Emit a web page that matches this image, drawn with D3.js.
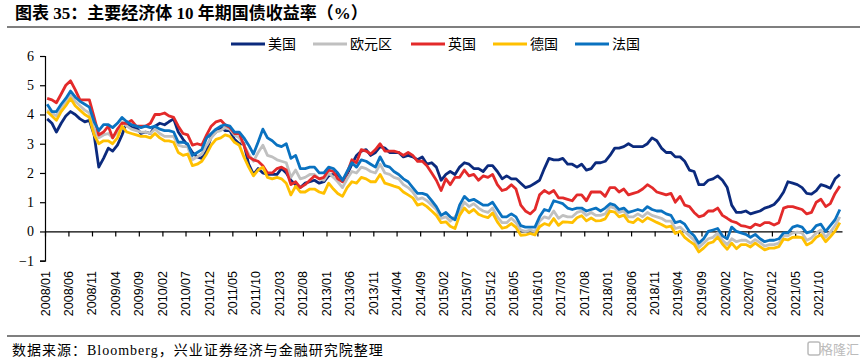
<!DOCTYPE html>
<html>
<head>
<meta charset="utf-8">
<script src="https://cdn.jsdelivr.net/npm/d3@7"></script>
<style>
  body { margin: 0; background: #fff; }
  svg { display: block; }
</style>
</head>
<body>
<div id="chart"></div>
<script>
// monthly readings, 2008/01 .. 2022/02
var us = [
  3.85, 3.7, 3.4, 3.7, 3.95, 4.1, 4.0, 3.85, 3.75, 3.8, 3.3, 2.2,
  2.5, 2.85, 2.75, 2.95, 3.3, 3.75, 3.55, 3.55, 3.35, 3.4, 3.35, 3.6,
  3.7, 3.65, 3.75, 3.85, 3.4, 3.15, 2.95, 2.7, 2.55, 2.5, 2.75, 3.25,
  3.4, 3.55, 3.45, 3.45, 3.15, 3.0, 3.0, 2.3, 1.95, 2.15, 2.0, 1.95,
  1.95, 1.95, 2.15, 2.0, 1.75, 1.6, 1.5, 1.65, 1.7, 1.75, 1.65, 1.7,
  1.9, 1.95, 1.95, 1.75, 1.95, 2.3, 2.6, 2.75, 2.8, 2.6, 2.7, 2.9,
  2.85, 2.7, 2.7, 2.7, 2.55, 2.6, 2.55, 2.45, 2.55, 2.3, 2.35, 2.2,
  1.75, 1.95, 2.05, 1.95, 2.2, 2.35, 2.3, 2.15, 2.15, 2.05, 2.25, 2.25,
  2.05, 1.8, 1.9, 1.8, 1.8, 1.65, 1.5, 1.55, 1.65, 1.75, 2.15, 2.5,
  2.45, 2.45, 2.5, 2.3, 2.3, 2.2, 2.3, 2.1, 2.15, 2.35, 2.35, 2.4,
  2.6, 2.85, 2.85, 2.9, 3.0, 2.9, 2.9, 2.9, 3.0, 3.2, 3.1, 2.85,
  2.7, 2.7, 2.55, 2.55, 2.4, 2.1, 2.05, 1.6, 1.6, 1.75, 1.8, 1.9,
  1.75, 1.5, 0.9, 0.65, 0.65, 0.7, 0.6, 0.65, 0.7, 0.8, 0.85, 0.92,
  1.1, 1.35, 1.7, 1.65, 1.6, 1.5, 1.3, 1.28, 1.4, 1.6, 1.55, 1.48,
  1.8, 1.95
]
var ez = [
  4.15, 4.05, 3.95, 4.25, 4.45, 4.7, 4.45, 4.3, 4.15, 4.05, 3.5, 3.2,
  3.3, 3.35, 3.2, 3.4, 3.75, 3.6, 3.5, 3.45, 3.4, 3.4, 3.35, 3.5,
  3.35, 3.25, 3.25, 3.25, 2.95, 2.9, 2.9, 2.45, 2.55, 2.65, 2.95, 3.2,
  3.4, 3.45, 3.55, 3.5, 3.3, 3.2, 2.95, 2.65, 2.4, 2.7, 2.95, 2.6,
  2.55, 2.45, 2.4, 2.35, 1.85, 2.1, 1.8, 1.85, 1.95, 1.95, 1.8, 1.75,
  2.0, 1.85, 1.7, 1.5, 1.8, 2.05, 2.0, 2.2, 2.15, 2.05, 2.0, 2.3,
  2.0, 1.95, 1.85, 1.8, 1.6, 1.5, 1.35, 1.1, 1.15, 1.05, 0.9, 0.75,
  0.45, 0.5, 0.35, 0.5, 0.7, 1.0, 0.85, 0.95, 0.8, 0.7, 0.65, 0.8,
  0.5, 0.3, 0.3, 0.45, 0.3, 0.05, 0.0, 0.05, 0.0, 0.35, 0.5, 0.45,
  0.7, 0.45, 0.55, 0.5, 0.5, 0.65, 0.7, 0.55, 0.65, 0.55, 0.55, 0.6,
  0.85, 0.8, 0.65, 0.7, 0.5, 0.5, 0.6, 0.5, 0.65, 0.55, 0.5, 0.45,
  0.35, 0.35, 0.1, 0.15, 0.0, -0.15, -0.3, -0.55, -0.4, -0.25, -0.2, -0.05,
  -0.3, -0.45, -0.25, -0.35, -0.3, -0.3, -0.4, -0.28, -0.38, -0.5, -0.45, -0.45,
  -0.4, -0.15, -0.15, -0.05, -0.02, -0.05, -0.3, -0.22, -0.05, 0.05, -0.2, -0.02,
  0.2, 0.5
]
var uk = [
  4.55, 4.5, 4.4, 4.7, 5.0, 5.15, 4.85, 4.5, 4.5, 4.5, 3.9, 3.3,
  3.4, 3.6, 3.2, 3.5, 3.7, 3.7, 3.8, 3.6, 3.6, 3.6, 3.7, 4.0,
  4.0, 4.05, 3.95, 3.9, 3.6, 3.35, 3.3, 2.95, 3.0, 2.95, 3.3, 3.6,
  3.75, 3.8, 3.65, 3.55, 3.35, 3.35, 2.95, 2.55, 2.45, 2.4, 2.25, 2.0,
  2.0, 2.15, 2.2, 2.1, 1.6, 1.7, 1.5, 1.6, 1.75, 1.9, 1.8, 1.85,
  2.1, 2.05, 1.8, 1.7, 2.0, 2.45, 2.35, 2.8, 2.75, 2.65, 2.8, 3.0,
  2.75, 2.75, 2.75, 2.7, 2.6, 2.7, 2.6, 2.4, 2.4, 2.25, 2.0, 1.75,
  1.4, 1.8, 1.6, 1.85, 1.85, 2.1, 1.9, 1.95, 1.75, 1.9, 1.85, 1.95,
  1.6, 1.4, 1.45, 1.6, 1.45, 0.9, 0.7, 0.6, 0.75, 1.25, 1.4, 1.3,
  1.4, 1.15, 1.15, 1.1, 1.05, 1.25, 1.25, 1.05, 1.35, 1.35, 1.35, 1.2,
  1.5, 1.5, 1.35, 1.45, 1.25, 1.3, 1.35, 1.45, 1.6, 1.5, 1.35, 1.3,
  1.25, 1.3, 1.0, 1.2, 0.9, 0.85, 0.65, 0.5, 0.55, 0.7, 0.7, 0.8,
  0.55, 0.45, 0.35, 0.3, 0.2, 0.17, 0.12, 0.25, 0.2, 0.3, 0.3, 0.22,
  0.3, 0.8, 0.85, 0.85, 0.8, 0.75, 0.6, 0.65, 1.0, 1.1, 0.85, 0.95,
  1.3, 1.55
]
var de = [
  4.1, 3.95, 3.8, 4.1, 4.3, 4.55, 4.3, 4.15, 4.0, 3.9, 3.3, 3.0,
  3.1, 3.1, 3.0, 3.2, 3.6, 3.4, 3.35, 3.3, 3.25, 3.25, 3.2, 3.35,
  3.2, 3.1, 3.1, 3.05, 2.7, 2.6, 2.65, 2.25, 2.3, 2.4, 2.65, 2.95,
  3.15, 3.2, 3.3, 3.25, 3.05, 2.95, 2.55, 2.2, 1.9, 2.1, 2.2, 1.85,
  1.8, 1.85, 1.8, 1.65, 1.25, 1.55, 1.35, 1.35, 1.45, 1.45, 1.35, 1.3,
  1.65, 1.45, 1.3, 1.2, 1.5, 1.7, 1.65, 1.85, 1.8, 1.7, 1.7, 1.95,
  1.65, 1.6, 1.55, 1.5, 1.35, 1.25, 1.15, 0.9, 0.95, 0.85, 0.7, 0.55,
  0.3, 0.33, 0.18, 0.1, 0.55, 0.8, 0.64, 0.75, 0.59, 0.52, 0.47, 0.63,
  0.33, 0.11, 0.15, 0.27, 0.14, -0.13, -0.12, -0.07, -0.12, 0.16, 0.27, 0.21,
  0.44, 0.21, 0.33, 0.32, 0.3, 0.47, 0.54, 0.36, 0.46, 0.36, 0.37, 0.43,
  0.7, 0.66, 0.5, 0.56, 0.34, 0.3, 0.44, 0.33, 0.47, 0.39, 0.31, 0.24,
  0.15, 0.18, -0.07, 0.01, -0.2, -0.33, -0.44, -0.7, -0.57, -0.41, -0.36, -0.19,
  -0.43, -0.61, -0.4, -0.59, -0.45, -0.45, -0.53, -0.4, -0.52, -0.63, -0.57, -0.57,
  -0.52, -0.26, -0.29, -0.2, -0.19, -0.21, -0.46, -0.38, -0.2, -0.11, -0.35, -0.18,
  0.01, 0.3
]
var fr = [
  4.35, 4.1, 4.1, 4.35, 4.55, 4.8, 4.6, 4.45, 4.35, 4.25, 3.75, 3.45,
  3.65, 3.65, 3.55, 3.7, 3.9, 3.75, 3.65, 3.6, 3.55, 3.6, 3.55, 3.6,
  3.5, 3.45, 3.45, 3.4, 3.05, 3.05, 3.0, 2.6, 2.7, 2.8, 3.2, 3.35,
  3.5, 3.6, 3.65, 3.6, 3.4, 3.4, 3.2, 2.95, 2.65, 3.05, 3.5, 3.2,
  3.1, 2.95, 2.9, 3.0, 2.5, 2.6, 2.15, 2.15, 2.2, 2.2, 2.0, 2.0,
  2.2, 2.15, 2.0, 1.75, 2.05, 2.35, 2.2, 2.45, 2.4, 2.3, 2.2, 2.55,
  2.25, 2.2, 2.05, 1.95, 1.8, 1.7, 1.5, 1.3, 1.3, 1.25, 1.05, 0.85,
  0.55, 0.65, 0.5, 0.4, 0.9, 1.2, 1.05, 1.1, 1.0, 0.9, 0.9, 1.0,
  0.75, 0.5, 0.5, 0.6, 0.5, 0.2, 0.15, 0.15, 0.15, 0.5, 0.75, 0.7,
  1.05, 1.0, 0.95, 0.8, 0.75, 0.8, 0.8, 0.7, 0.75, 0.8, 0.7, 0.8,
  0.95, 0.9, 0.75, 0.8, 0.65, 0.7, 0.75, 0.7, 0.85, 0.75, 0.7, 0.7,
  0.6, 0.55, 0.3, 0.35, 0.25, 0.0, -0.15, -0.4, -0.25, 0.0, 0.05, 0.1,
  -0.15, -0.25, 0.15, 0.0, -0.05, -0.1, -0.2, -0.1, -0.25, -0.35, -0.3, -0.3,
  -0.25, -0.05, -0.05, 0.15, 0.2, 0.15, -0.05, 0.0, 0.2, 0.25, 0.0, 0.2,
  0.4, 0.75
]
var seriesNames = ['美国', '欧元区', '英国', '德国', '法国']
var seriesColors = ['#0b2a7d', '#c0c0c0', '#e32a2a', '#ffc000', '#0a72c0']
var yTicks = [-1, 0, 1, 2, 3, 4, 5, 6]
var xTickLabels = [
  '2008/01', '2008/06', '2008/11', '2009/04', '2009/09', '2010/02', '2010/07', '2010/12',
  '2011/05', '2011/10', '2012/03', '2012/08', '2013/01', '2013/06', '2013/11', '2014/04',
  '2014/09', '2015/02', '2015/07', '2015/12', '2016/05', '2016/10', '2017/03', '2017/08',
  '2018/01', '2018/06', '2018/11', '2019/04', '2019/09', '2020/02', '2020/07', '2020/12',
  '2021/05', '2021/10'
]

var W = 866, H = 363
var parse = d3.timeParse('%Y/%m')
var months = d3.timeMonth.range(new Date(2008, 0, 1), new Date(2022, 2, 1))
var allSeries = [us, ez, uk, de, fr]

var svg = d3.select('#chart').append('svg')
    .attr('width', W)
    .attr('height', H)

// title + rules
svg.append('text')
    .attr('x', 15)
    .attr('y', 19)
    .attr('font-family', '"Liberation Serif", "Noto Sans CJK SC", serif')
    .attr('font-weight', 'bold')
    .attr('font-size', '17px')
    .text('图表 35：主要经济体 10 年期国债收益率（%）')
svg.append('line')
    .attr('x1', 7).attr('x2', 860)
    .attr('y1', 27).attr('y2', 27)
    .attr('stroke', '#000').attr('stroke-width', 1.2)
svg.append('line')
    .attr('x1', 7).attr('x2', 860)
    .attr('y1', 336).attr('y2', 336)
    .attr('stroke', '#000').attr('stroke-width', 1.2)
svg.append('text')
    .attr('x', 12)
    .attr('y', 355)
    .attr('font-family', '"Liberation Serif", "Noto Sans CJK SC", serif')
    .attr('font-size', '14px')
    .attr('letter-spacing', '1px')
    .text('数据来源：Bloomberg，兴业证券经济与金融研究院整理')
// watermark
svg.append('rect')
    .attr('x', 808).attr('y', 342).attr('width', 12).attr('height', 13)
    .attr('rx', 2)
    .attr('fill', 'none').attr('stroke', '#bbb').attr('stroke-width', 1.5)
svg.append('text')
    .attr('x', 859)
    .attr('y', 354)
    .attr('text-anchor', 'end')
    .attr('font-family', '"Noto Sans CJK SC", sans-serif')
    .attr('font-size', '13px')
    .attr('fill', '#bbb')
    .text('格隆汇')

// scales
var x = d3.scaleTime()
    .domain([new Date(2008, 0, 1), new Date(2022, 2, 1)])
    .range([45, 842])
var y = d3.scaleLinear()
    .domain([-1, 6])
    .range([260.7, 56])

// y axis
var yAxis = svg.append('g')
    .attr('transform', 'translate(45,0)')
    .call(d3.axisLeft(y).tickValues(yTicks).tickSize(5).tickPadding(6).tickFormat(d3.format('d')))
yAxis.select('.domain').attr('stroke', '#000').attr('stroke-width', 1.2)
yAxis.selectAll('.tick line').attr('stroke', '#000').attr('stroke-width', 1.2)
yAxis.selectAll('text')
    .attr('font-family', '"Liberation Serif", serif')
    .attr('font-size', '14px')
    .attr('fill', '#000')

// x axis on zero line, labels at the bottom
var tickDates = xTickLabels.map(parse)
var xAxis = svg.append('g')
    .attr('transform', 'translate(0,' + y(0) + ')')
    .call(d3.axisBottom(x).tickValues(tickDates).tickSize(5).tickSizeOuter(0).tickFormat(''))
xAxis.select('.domain').attr('stroke', '#000').attr('stroke-width', 1.2)
xAxis.selectAll('.tick line').attr('stroke', '#000').attr('stroke-width', 1.2)

svg.append('g')
    .selectAll('text')
    .data(tickDates)
    .join('text')
    .attr('transform', function (d, i) {
        return 'translate(' + (x(d) + 4.5) + ',271) rotate(-90)'
    })
    .attr('text-anchor', 'end')
    .attr('font-family', '"Liberation Sans", Arial, sans-serif')
    .attr('font-size', '12.5px')
    .attr('fill', '#000')
    .text(function (d, i) { return xTickLabels[i] })

// lines
var valueline = d3.line()
    .x(function (d, i) { return x(d3.timeDay.offset(months[i], 14)) })
    .y(function (d) { return y(d) })

svg.append('g')
    .selectAll('path')
    .data(allSeries)
    .join('path')
    .attr('fill', 'none')
    .attr('stroke', function (d, i) { return seriesColors[i] })
    .attr('stroke-width', 2.8)
    .attr('stroke-linejoin', 'round')
    .attr('d', valueline)

// legend
var legendX = [231, 313, 411, 493, 575]
var legend = svg.append('g')
    .selectAll('g')
    .data(seriesNames)
    .join('g')
    .attr('transform', function (d, i) { return 'translate(' + legendX[i] + ',44)' })
legend.append('line')
    .attr('x1', 0).attr('x2', 34)
    .attr('stroke', function (d, i) { return seriesColors[i] })
    .attr('stroke-width', 3)
legend.append('text')
    .attr('x', 37)
    .attr('y', 5)
    .attr('font-family', '"Noto Sans CJK SC", sans-serif')
    .attr('font-size', '14px')
    .attr('fill', '#000')
    .text(function (d) { return d })
</script>
</body>
</html>
